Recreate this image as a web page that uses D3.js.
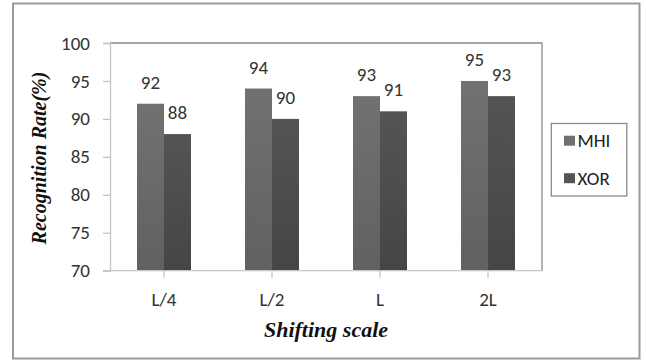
<!DOCTYPE html>
<html>
<head>
<meta charset="utf-8">
<script src="https://cdn.jsdelivr.net/npm/d3@7"></script>
<style>
  html, body { margin: 0; padding: 0; background: #fff; }
  svg { display: block; }
</style>
</head>
<body>
<svg id="chart" width="646" height="361"></svg>
<script>
// Recognition rate per shifting scale for the two methods
const categories = ["L/4", "L/2", "L", "2L"];
const seriesNames = ["MHI", "XOR"];
const mhiValues = [92, 94, 93, 95];
const xorValues = [88, 90, 91, 93];
const yTicks = [70, 75, 80, 85, 90, 95, 100];

const seriesValues = [mhiValues, xorValues];
const seriesColors = [["#717171", "#616161"], ["#545454", "#454545"]];

const svg = d3.select("#chart");
const plot = { left: 110, right: 542, top: 43, bottom: 270.7 };
const labelFont = "Carlito, Lato, 'Liberation Sans', sans-serif";
const titleFont = "'Liberation Serif', 'DejaVu Serif', serif";

// Outer frame
svg.append("rect")
  .attr("x", 13).attr("y", 3.5).attr("width", 626.5).attr("height", 355)
  .attr("fill", "#fff").attr("stroke", "#9a9a9a").attr("stroke-width", 2);

// Bar shading
const defs = svg.append("defs");
seriesColors.forEach((c, i) => {
  const g = defs.append("linearGradient").attr("id", "grad" + i)
    .attr("x1", 0).attr("y1", 0).attr("x2", 0).attr("y2", 1);
  g.append("stop").attr("offset", "0%").attr("stop-color", c[0]);
  g.append("stop").attr("offset", "100%").attr("stop-color", c[1]);
});

const x = d3.scaleBand().domain(categories)
  .range([plot.left, plot.right]).paddingInner(0.5).paddingOuter(0.25);
const xs = d3.scaleBand().domain(seriesNames).range([0, x.bandwidth()]);
const y = d3.scaleLinear().domain([70, 100]).range([plot.bottom, plot.top]);

// Plot box: top and right edges
svg.append("path")
  .attr("d", `M${plot.left},${plot.top}H${plot.right}V${plot.bottom}`)
  .attr("fill", "none").attr("stroke", "#8a8a8a").attr("stroke-width", 1.3);

// Y axis
const yAxis = svg.append("g").attr("transform", `translate(${plot.left},0)`)
  .call(d3.axisLeft(y).tickValues(yTicks).tickSize(7).tickPadding(13));
yAxis.select(".domain").attr("stroke", "#c4c4c4").attr("stroke-width", 1.3);
yAxis.selectAll(".tick line").attr("stroke", "#c4c4c4").attr("stroke-width", 1.3);
yAxis.selectAll(".tick text")
  .attr("font-family", labelFont).attr("font-size", 19).attr("fill", "#333");

// Bars
const groups = svg.append("g").selectAll("g")
  .data(categories).join("g")
  .attr("transform", d => `translate(${x(d)},0)`);

groups.selectAll("rect")
  .data((d, i) => seriesNames.map((s, k) => ({ s, k, v: seriesValues[k][i] })))
  .join("rect")
  .attr("x", d => xs(d.s))
  .attr("width", xs.bandwidth())
  .attr("y", d => y(d.v))
  .attr("height", d => y(70) - y(d.v))
  .attr("fill", d => `url(#grad${d.k})`);

groups.selectAll("text")
  .data((d, i) => seriesNames.map((s, k) => ({ s, k, v: seriesValues[k][i] })))
  .join("text")
  .attr("x", d => xs(d.s) + xs.bandwidth() / 2)
  .attr("y", d => y(d.v) - 15)
  .attr("text-anchor", "middle")
  .attr("font-family", labelFont).attr("font-size", 19).attr("fill", "#333")
  .text(d => d.v);

// X axis
const xAxis = svg.append("g").attr("transform", `translate(0,${plot.bottom})`)
  .call(d3.axisBottom(x).tickSize(7).tickPadding(15).tickSizeOuter(0));
xAxis.select(".domain").attr("stroke", "#c4c4c4").attr("stroke-width", 1.3)
  .attr("d", `M${plot.left - 7},0H${plot.right}`);
xAxis.selectAll(".tick line").attr("stroke", "#c4c4c4").attr("stroke-width", 1.3);
xAxis.selectAll(".tick text")
  .attr("font-family", labelFont).attr("font-size", 19).attr("fill", "#333");

// Axis titles
svg.append("text")
  .attr("transform", "translate(46,158) rotate(-90)")
  .attr("text-anchor", "middle")
  .attr("font-family", titleFont).attr("font-size", 20)
  .attr("font-weight", "bold").attr("font-style", "italic").attr("fill", "#111")
  .text("Recognition Rate(%)");

svg.append("text")
  .attr("x", 326).attr("y", 337)
  .attr("text-anchor", "middle")
  .attr("font-family", titleFont).attr("font-size", 22)
  .attr("font-weight", "bold").attr("font-style", "italic").attr("fill", "#111")
  .text("Shifting scale");

// Legend
const legend = svg.append("g");
legend.append("rect")
  .attr("x", 551.3).attr("y", 123.5).attr("width", 75.5).attr("height", 72.5)
  .attr("fill", "#fff").attr("stroke", "#8a8a8a").attr("stroke-width", 1.3);
const items = legend.selectAll("g.item").data(seriesNames).join("g")
  .attr("class", "item")
  .attr("transform", (d, i) => `translate(564,${140.7 + i * 37.5})`);
items.append("rect")
  .attr("x", 0).attr("y", -5).attr("width", 11).attr("height", 10)
  .attr("fill", (d, i) => seriesColors[i][0]);
items.append("text")
  .attr("x", 13.5).attr("y", 6.5)
  .attr("font-family", labelFont).attr("font-size", 19).attr("fill", "#222")
  .text(d => d);
</script>
</body>
</html>
